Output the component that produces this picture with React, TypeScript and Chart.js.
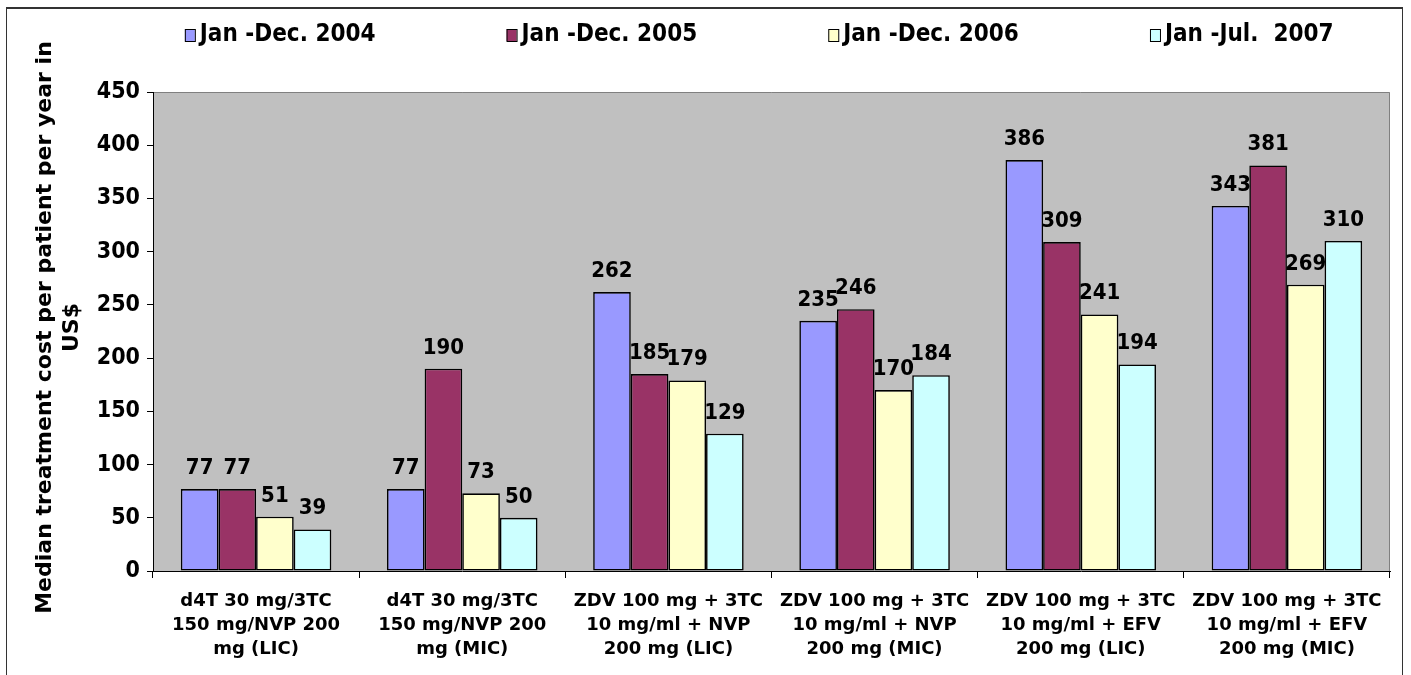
import React, { useEffect, useRef } from "react";
import { Chart, registerables } from "chart.js";

Chart.register(...registerables);

const categories: string[][] = [
  ["d4T 30 mg/3TC", "150 mg/NVP 200", "mg (LIC)"],
  ["d4T 30 mg/3TC", "150 mg/NVP 200", "mg (MIC)"],
  ["ZDV 100 mg + 3TC", "10 mg/ml + NVP", "200 mg (LIC)"],
  ["ZDV 100 mg + 3TC", "10 mg/ml + NVP", "200 mg (MIC)"],
  ["ZDV 100 mg + 3TC", "10 mg/ml + EFV", "200 mg (LIC)"],
  ["ZDV 100 mg + 3TC", "10 mg/ml + EFV", "200 mg (MIC)"],
];

const seriesNames = ["Jan -Dec. 2004", "Jan -Dec. 2005", "Jan -Dec. 2006", "Jan -Jul.  2007"];
const values2004 = [77, 77, 262, 235, 386, 343];
const values2005 = [77, 190, 185, 246, 309, 381];
const values2006 = [51, 73, 179, 170, 241, 269];
const values2007 = [39, 50, 129, 184, 194, 310];
const seriesColors = ["#9999FF", "#993366", "#FFFFCC", "#CCFFFF"];
const yTitleLines = ["Median treatment cost per patient per year in", "US$"];
const yMin = 0;
const yMax = 450;
const yStep = 50;

const FONT = "'DejaVu Sans', Verdana, sans-serif";
const FONT_COND = "'DejaVu Sans Condensed', 'DejaVu Sans', sans-serif";

const backgroundPlugin = {
  id: "bgFrame",
  beforeDraw(chart: any) {
    const { ctx, chartArea, width, height } = chart;
    ctx.save();
    ctx.fillStyle = "#FFFFFF";
    ctx.fillRect(0, 0, width, height);
    ctx.strokeStyle = "#333333";
    ctx.lineWidth = 1;
    ctx.strokeRect(6.5, 7.5, width - 15, height + 20);
    ctx.beginPath();
    ctx.moveTo(6, 8);
    ctx.lineTo(width - 8, 8);
    ctx.lineWidth = 2;
    ctx.stroke();
    ctx.fillStyle = "#C0C0C0";
    ctx.fillRect(chartArea.left, chartArea.top, chartArea.right - chartArea.left, chartArea.bottom - chartArea.top);
    ctx.strokeStyle = "#808080";
    ctx.lineWidth = 1;
    ctx.beginPath();
    ctx.moveTo(chartArea.left, chartArea.top + 0.5);
    ctx.lineTo(chartArea.right - 0.5, chartArea.top + 0.5);
    ctx.lineTo(chartArea.right - 0.5, chartArea.bottom);
    ctx.stroke();
    ctx.restore();
  },
};

const labelsPlugin = {
  id: "valueLabels",
  afterDatasetsDraw(chart: any) {
    const { ctx } = chart;
    ctx.save();
    ctx.font = `bold 22px ${FONT_COND}`;
    ctx.fillStyle = "#000000";
    ctx.textAlign = "center";
    ctx.textBaseline = "alphabetic";
    chart.data.datasets.forEach((ds: any, i: number) => {
      const meta = chart.getDatasetMeta(i);
      meta.data.forEach((el: any, j: number) => {
        ctx.fillText(String(ds.data[j]), el.x, el.y - 15);
      });
    });
    ctx.restore();
  },
};

const legendPlugin = {
  id: "customLegend",
  afterDraw(chart: any) {
    const { ctx, width } = chart;
    ctx.save();
    ctx.font = `bold 24px ${FONT_COND}`;
    ctx.textBaseline = "middle";
    ctx.textAlign = "left";
    const startX = width * 0.131;
    const step = width * 0.228;
    const cy = 35;
    chart.data.datasets.forEach((ds: any, i: number) => {
      const x = startX + i * step;
      ctx.fillStyle = ds.backgroundColor;
      ctx.fillRect(x, cy - 6, 10, 12);
      ctx.strokeStyle = "#000000";
      ctx.lineWidth = 1;
      ctx.strokeRect(x + 0.5, cy - 5.5, 10, 12);
      ctx.fillStyle = "#000000";
      ctx.fillText(ds.label, x + 15, cy);
    });
    ctx.restore();
  },
};

const yTitlePlugin = {
  id: "yTitle",
  afterDraw(chart: any) {
    const { ctx, chartArea } = chart;
    ctx.save();
    ctx.font = `bold 22px ${FONT}`;
    ctx.fillStyle = "#000000";
    ctx.textAlign = "center";
    ctx.textBaseline = "middle";
    const cy = (chartArea.top + chartArea.bottom) / 2 - 4;
    yTitleLines.forEach((line, i) => {
      ctx.save();
      ctx.translate(45 + i * 27, cy);
      ctx.rotate(-Math.PI / 2);
      ctx.fillText(line, 0, 0);
      ctx.restore();
    });
    ctx.restore();
  },
};

export default function App() {
  const ref = useRef<HTMLCanvasElement>(null);
  useEffect(() => {
    if (!ref.current) return;
    const seriesValues = [values2004, values2005, values2006, values2007];
    const chart = new Chart(ref.current, {
      type: "bar",
      data: {
        labels: categories,
        datasets: seriesNames.map((name, i) => ({
          label: name,
          data: seriesValues[i],
          backgroundColor: seriesColors[i],
          borderColor: "#000000",
          borderWidth: 1.6,
          borderSkipped: false,
          categoryPercentage: 0.73,
          barPercentage: 1.0,
        })),
      },
      options: {
        animation: false,
        responsive: false,
        devicePixelRatio: 1,
        layout: { padding: { top: 92, right: 21, left: 0, bottom: 0 } },
        plugins: {
          legend: { display: false },
          tooltip: { enabled: false },
        },
        scales: {
          x: {
            grid: { display: true, drawOnChartArea: false, offset: true, tickLength: 7, color: "#000000" },
            border: { display: true, color: "#000000", width: 1 },
            ticks: {
              color: "#000000",
              font: { family: FONT, weight: "bold", size: 18, lineHeight: 1.35 },
              padding: 11,
              maxRotation: 0,
              autoSkip: false,
            },
            afterFit: (scale: any) => {
              scale.height = 104;
            },
          },
          y: {
            min: yMin,
            max: yMax,
            grid: { display: true, drawOnChartArea: false, tickLength: 6, color: "#000000" },
            border: { display: true, color: "#000000", width: 1 },
            ticks: {
              stepSize: yStep,
              color: "#000000",
              font: { family: FONT_COND, weight: "bold", size: 23 },
              padding: 7,
            },
            afterFit: (scale: any) => {
              scale.width = 153;
            },
          },
        },
      },
      plugins: [backgroundPlugin, labelsPlugin, legendPlugin, yTitlePlugin],
    });
    return () => chart.destroy();
  }, []);
  return (
    <div style={{ position: "fixed", left: 0, top: 0, width: 1411, height: 675, overflow: "hidden", background: "#fff" }}>
      <canvas ref={ref} width={1411} height={675} style={{ display: "block", width: 1411, height: 675 }} />
    </div>
  );
}
